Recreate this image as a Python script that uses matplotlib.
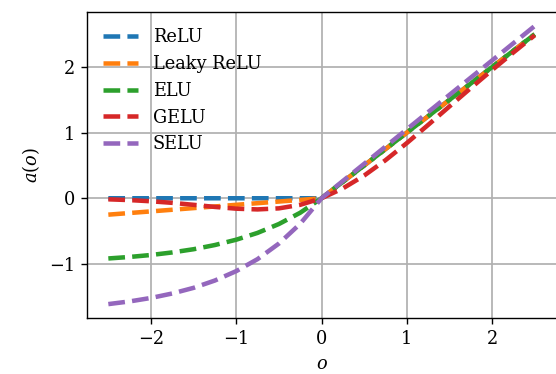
import matplotlib
matplotlib.use("Agg")
import matplotlib.pyplot as plt

# pre-activation values and the response of each activation function
o = [-2.5, -2.25, -2.0, -1.75, -1.5, -1.25, -1.0, -0.75, -0.5, -0.25, 0.0,
     0.25, 0.5, 0.75, 1.0, 1.25, 1.5, 1.75, 2.0, 2.25, 2.5]
relu = [0.0, 0.0, 0.0, 0.0, 0.0, 0.0, 0.0, 0.0, 0.0, 0.0, 0.0,
        0.25, 0.5, 0.75, 1.0, 1.25, 1.5, 1.75, 2.0, 2.25, 2.5]
leaky_relu = [-0.25, -0.225, -0.2, -0.175, -0.15, -0.125, -0.1, -0.075, -0.05, -0.025, 0.0,
              0.25, 0.5, 0.75, 1.0, 1.25, 1.5, 1.75, 2.0, 2.25, 2.5]
elu = [-0.918, -0.895, -0.865, -0.826, -0.777, -0.713, -0.632, -0.528, -0.393, -0.221, 0.0,
       0.25, 0.5, 0.75, 1.0, 1.25, 1.5, 1.75, 2.0, 2.25, 2.5]
gelu = [-0.016, -0.028, -0.046, -0.070, -0.100, -0.132, -0.159, -0.170, -0.154, -0.100, 0.0,
        0.150, 0.346, 0.580, 0.841, 1.118, 1.400, 1.680, 1.955, 2.223, 2.485]
selu = [-1.614, -1.573, -1.520, -1.452, -1.366, -1.254, -1.111, -0.928, -0.691, -0.389, 0.0,
        0.263, 0.525, 0.788, 1.051, 1.313, 1.576, 1.839, 2.101, 2.364, 2.627]

series = [("ReLU", relu), ("Leaky ReLU", leaky_relu), ("ELU", elu),
          ("GELU", gelu), ("SELU", selu)]

plt.rcParams["font.family"] = "DejaVu Serif"
plt.rcParams["mathtext.fontset"] = "dejavuserif"
plt.rcParams["font.size"] = 10.2

fig = plt.figure(figsize=(556 / 125, 374 / 125), dpi=125)
ax = fig.add_axes([0.1565, 0.1497, 0.8435, 0.818])
for name, vals in series:
    ax.plot(o, vals, ls="--", lw=2.6, label=name)

ax.grid(True, color="#b0b0b0", lw=1.0)
ax.set_axisbelow(True)
ax.spines["right"].set_visible(False)
ax.set_xticks([-2, -1, 0, 1, 2])
ax.set_yticks([-1, 0, 1, 2])
ax.set_xlabel("$o$")
ax.set_ylabel("$a(o)$")
ax.legend(loc="upper left", frameon=False)

fig.savefig("out.png", dpi=125)
